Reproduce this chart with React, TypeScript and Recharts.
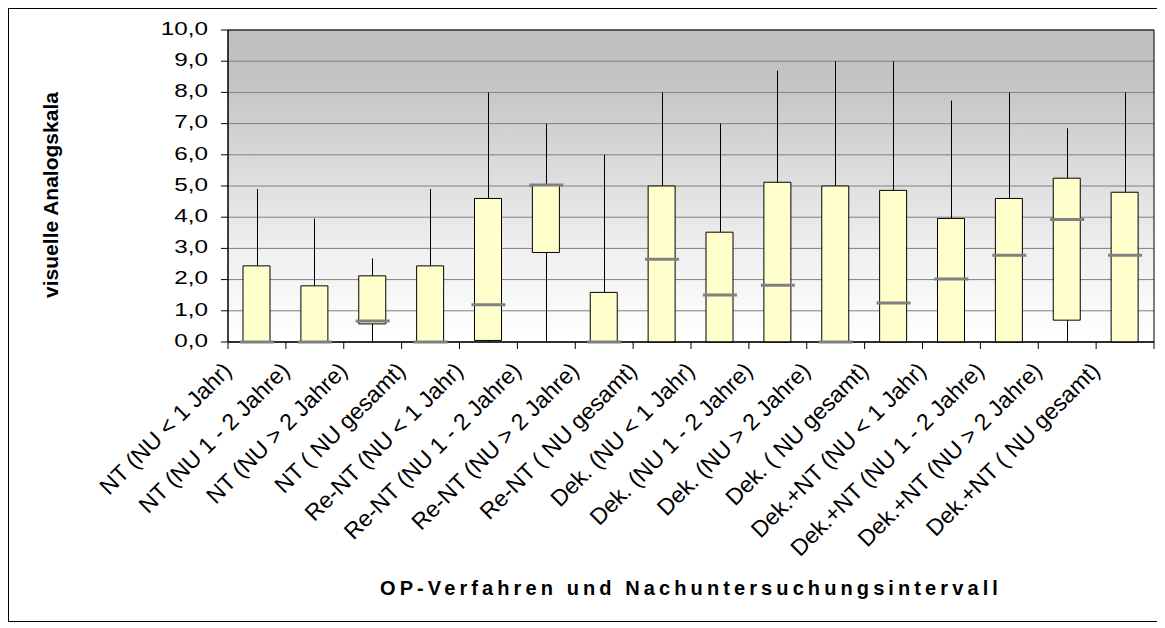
import React from "react";
import {
  Bar,
  CartesianGrid,
  ComposedChart,
  Line,
  ReferenceArea,
  XAxis,
  YAxis,
} from "recharts";

const categories = [
  "NT (NU < 1 Jahr)",
  "NT (NU 1 - 2 Jahre)",
  "NT (NU > 2 Jahre)",
  "NT ( NU gesamt)",
  "Re-NT (NU < 1 Jahr)",
  "Re-NT (NU 1 - 2 Jahre)",
  "Re-NT (NU > 2 Jahre)",
  "Re-NT ( NU gesamt)",
  "Dek. (NU < 1 Jahr)",
  "Dek. (NU 1 - 2 Jahre)",
  "Dek. (NU > 2 Jahre)",
  "Dek. ( NU gesamt)",
  "Dek.+NT (NU < 1 Jahr)",
  "Dek.+NT (NU 1 - 2 Jahre)",
  "Dek.+NT (NU > 2 Jahre)",
  "Dek.+NT ( NU gesamt)",
];

const minValues = [0, 0, 0, 0, 0, 0, 0, 0, 0, 0, 0, 0, 0, 0, 0, 0];
const q1Values = [0, 0, 0.58, 0, 0.05, 2.87, 0, 0, 0, 0, 0, 0, 0, 0, 0.7, 0];
const medianValues = [0, 0, 0.67, 0, 1.19, 5.03, 0, 2.65, 1.51, 1.82, 0, 1.25, 2.02, 2.78, 3.93, 2.78];
const q3Values = [2.44, 1.8, 2.12, 2.44, 4.6, 5.03, 1.59, 5.0, 3.52, 5.12, 5.0, 4.86, 3.96, 4.6, 5.25, 4.8];
const maxValues = [4.9, 3.96, 2.68, 4.9, 8.0, 7.0, 6.0, 8.0, 7.0, 8.7, 9.0, 9.0, 7.74, 8.0, 6.85, 8.0];

const yTicks = [0, 1, 2, 3, 4, 5, 6, 7, 8, 9, 10];

const data = categories.map((name, i) => ({
  name,
  base: minValues[i],
  lowerWhisker: q1Values[i] - minValues[i],
  box: q3Values[i] - q1Values[i],
  upperWhisker: maxValues[i] - q3Values[i],
  median: medianValues[i],
}));

const W = 1155;
const H = 612;
const margin = { top: 21, right: 10, left: 159, bottom: 249 };
const yAxisWidth = 60;
const bandWidth = (W - margin.left - margin.right - yAxisWidth) / categories.length;
const font = "'Liberation Sans', Arial, sans-serif";

const Whisker = (props: any) => {
  const { x, y, width, height } = props;
  if (!height) return <g />;
  const cx = Math.round(x + width / 2) + 0.5;
  return <line x1={cx} x2={cx} y1={y} y2={y + height} stroke="#000" strokeWidth={1} />;
};

const Nothing = () => <g />;

const MedianDot = (props: any) => {
  const { cx, cy, index } = props;
  if (cx == null || cy == null) return <g key={index} />;
  return (
    <line
      key={index}
      x1={cx - 17}
      x2={cx + 17}
      y1={cy}
      y2={cy}
      stroke="#808080"
      strokeWidth={3}
    />
  );
};

const YTick = (props: any) => {
  const { x, y, payload } = props;
  return (
    <text
      transform={`translate(${x},${y - 1}) scale(1.35,1)`}
      textAnchor="end"
      dominantBaseline="central"
      fontFamily={font}
      fontSize={18}
      fill="#000"
    >
      {payload.value.toFixed(1).replace(".", ",")}
    </text>
  );
};

const CatTick = (props: any) => {
  const { x, y, payload, index } = props;
  const left = x - bandWidth / 2;
  const right = x + bandWidth / 2;
  const ax = x - 24;
  const ay = y + 30;
  return (
    <g>
      <line x1={left} x2={left} y1={y} y2={y + 7} stroke="#000" />
      {index === categories.length - 1 && (
        <line x1={right} x2={right} y1={y} y2={y + 7} stroke="#000" />
      )}
      <text
        transform={`translate(${ax},${ay}) rotate(-45)`}
        textAnchor="end"
        fontFamily={font}
        fontSize={23}
        fill="#000"
      >
        {payload.value}
      </text>
    </g>
  );
};

export default function App() {
  return (
    <div style={{ width: W, height: H, border: "1px solid #000", background: "#fff" }}>
      <ComposedChart width={W} height={H} data={data} margin={margin}>
        <defs>
          <linearGradient id="plotBg" x1="0" y1="0" x2="0" y2="1">
            <stop offset="0%" stopColor="#bfbfbf" />
            <stop offset="15%" stopColor="#c3c3c3" />
            <stop offset="45%" stopColor="#dcdcdc" />
            <stop offset="72%" stopColor="#f0f0f0" />
            <stop offset="100%" stopColor="#ffffff" />
          </linearGradient>
        </defs>
        <CartesianGrid vertical={false} stroke="#808080" fill="url(#plotBg)" />
        <XAxis
          dataKey="name"
          interval={0}
          tickLine={false}
          tickSize={0}
          tickMargin={0}
          height={30}
          axisLine={{ stroke: "#000" }}
          tick={<CatTick />}
          label={{
            content: (p: any) => {
              const vb = p.viewBox;
              return (
                <text
                  x={vb.x + vb.width / 2}
                  y={vb.y + 253}
                  textAnchor="middle"
                  fontFamily={font}
                  fontWeight="bold"
                  fontSize={20}
                  letterSpacing={4.1}
                  fill="#000"
                >
                  OP-Verfahren und Nachuntersuchungsintervall
                </text>
              );
            },
          }}
        />
        <YAxis
          type="number"
          domain={[0, 10]}
          ticks={yTicks}
          interval={0}
          width={yAxisWidth}
          tickSize={7}
          tickMargin={13}
          tickLine={{ stroke: "#000" }}
          axisLine={{ stroke: "#000" }}
          tick={<YTick />}
          label={{
            content: (p: any) => {
              const vb = p.viewBox;
              const cy = vb.y + vb.height / 2 + 9;
              return (
                <text
                  transform={`translate(49,${cy}) rotate(-90)`}
                  textAnchor="middle"
                  fontFamily={font}
                  fontWeight="bold"
                  fontSize={21}
                  fill="#000"
                >
                  visuelle Analogskala
                </text>
              );
            },
          }}
        />
        <ReferenceArea y1={0} y2={10} fill="none" stroke="#000" ifOverflow="visible" />
        <Bar dataKey="base" stackId="a" barSize={27} shape={<Nothing />} isAnimationActive={false} />
        <Bar dataKey="lowerWhisker" stackId="a" barSize={27} shape={<Whisker />} isAnimationActive={false} />
        <Bar
          dataKey="box"
          stackId="a"
          barSize={27}
          fill="#ffffcc"
          stroke="#000"
          strokeWidth={1}
          isAnimationActive={false}
        />
        <Bar dataKey="upperWhisker" stackId="a" barSize={27} shape={<Whisker />} isAnimationActive={false} />
        <Line
          dataKey="median"
          stroke="none"
          dot={MedianDot}
          activeDot={false}
          legendType="none"
          isAnimationActive={false}
        />
      </ComposedChart>
    </div>
  );
}
